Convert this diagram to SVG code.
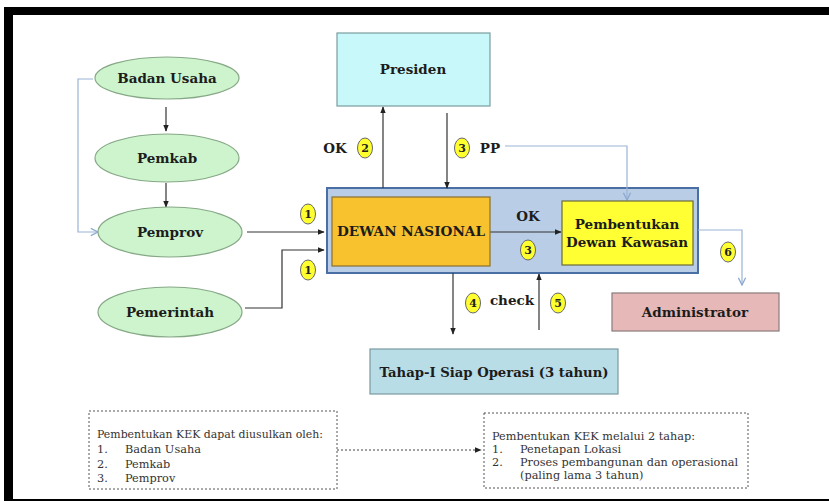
<svg xmlns="http://www.w3.org/2000/svg" width="829" height="501" viewBox="0 0 829 501">
<defs>
<marker id="ah" viewBox="0 0 10 10" refX="9" refY="5" markerWidth="7" markerHeight="7" markerUnits="userSpaceOnUse" orient="auto"><path d="M0,1 L10,5 L0,9 z" fill="#222"/></marker>
<marker id="ahb" viewBox="0 0 10 10" refX="9" refY="5" markerWidth="9" markerHeight="9" markerUnits="userSpaceOnUse" orient="auto"><path d="M1,1 L9,5 L1,9" fill="none" stroke="#8eaad0" stroke-width="1.5"/></marker>
</defs>
<style>
.lbl{font-family:"DejaVu Serif","Liberation Serif",serif;font-weight:bold;fill:#1c1c1c;text-anchor:middle;dominant-baseline:central}
.ell{fill:#cdf4cd;stroke:#86a886;stroke-width:1.2}
.badge{fill:#ffff30;stroke:#666;stroke-width:1}
.bn{font-family:"DejaVu Serif","Liberation Serif",serif;font-weight:bold;font-size:11px;fill:#222;text-anchor:middle;dominant-baseline:central}
.ln{fill:none;stroke:#333;stroke-width:1.2}
.lb{fill:none;stroke:#9ab3d6;stroke-width:1.2}
.note{font-family:"DejaVu Serif","Liberation Serif",serif;font-size:11.3px;fill:#333}
.dash{fill:#fff;stroke:#555;stroke-width:1;stroke-dasharray:2,2}
</style>
<rect width="829" height="501" fill="#fff"/>
<!-- frame -->
<rect x="4" y="7" width="825" height="8" fill="#000"/>
<rect x="4" y="7" width="9" height="494" fill="#000"/>
<rect x="4" y="499" width="825" height="2" fill="#000"/>

<g id="dewan-group"><rect x="327" y="188" width="371" height="85" fill="#b9cde6" stroke="#4a6fa5" stroke-width="2"/></g>

<g id="connectors">
<path class="ln" d="M166,107 V131" marker-end="url(#ah)"/>
<path class="ln" d="M166,183 V207" marker-end="url(#ah)"/>
<path class="lb" d="M93,79 H78 V232 H98" marker-end="url(#ahb)"/>
<path class="ln" d="M247,232 H324" marker-end="url(#ah)"/>
<path class="ln" d="M245,308 H282 V250 H324" marker-end="url(#ah)"/>
<path class="ln" d="M383,188 V107" marker-end="url(#ah)"/>
<path class="ln" d="M447,113 V188" marker-end="url(#ah)"/>
<path class="lb" d="M505,146 H627 V200" marker-end="url(#ahb)"/>
<path class="ln" d="M490,232 H561" marker-end="url(#ah)"/>
<path class="lb" d="M698,230 H742 V285" marker-end="url(#ahb)"/>
<path class="ln" d="M453,273 V334" marker-end="url(#ah)"/>
<path class="ln" d="M539,330 V274" marker-end="url(#ah)"/>
<path fill="none" stroke="#444" stroke-width="1" stroke-dasharray="2,2" d="M337,450 H481" marker-end="url(#ah)"/>
</g>

<g id="badan-usaha"><ellipse class="ell" cx="167" cy="78" rx="72" ry="21"/><text class="lbl" x="167" y="78" font-size="13.5">Badan Usaha</text></g>
<g id="pemkab"><ellipse class="ell" cx="167" cy="158" rx="72" ry="24"/><text class="lbl" x="167" y="158" font-size="13.5">Pemkab</text></g>
<g id="pemprov"><ellipse class="ell" cx="170" cy="232" rx="72" ry="25"/><text class="lbl" x="170" y="232" font-size="13.5">Pemprov</text></g>
<g id="pemerintah"><ellipse class="ell" cx="170" cy="312" rx="72" ry="25"/><text class="lbl" x="170" y="312" font-size="13.5">Pemerintah</text></g>

<g id="presiden"><rect x="337" y="33" width="153" height="73" fill="#c8f8fa" stroke="#7a9da0" stroke-width="1.2"/><text class="lbl" x="413" y="69" font-size="13.5">Presiden</text></g>

<g id="dewan-nasional"><rect x="332" y="197" width="158" height="69" fill="#f8c12e" stroke="#8a7030" stroke-width="1.2"/><text class="lbl" x="411" y="231" font-size="13" textLength="148" lengthAdjust="spacingAndGlyphs">DEWAN NASIONAL</text></g>
<g id="pembentukan"><rect x="562" y="201" width="131" height="64" fill="#ffff33" stroke="#6b6b3a" stroke-width="1.2"/><text class="lbl" x="627" y="224" font-size="13.5">Pembentukan</text><text class="lbl" x="627" y="242" font-size="13.5" textLength="122" lengthAdjust="spacingAndGlyphs">Dewan Kawasan</text></g>
<g id="administrator"><rect x="612" y="293" width="167" height="38" fill="#e6b8b8" stroke="#8c7a7a" stroke-width="1.2"/><text class="lbl" x="695" y="312" font-size="13.5">Administrator</text></g>
<g id="tahap"><rect x="370" y="349" width="248" height="45" fill="#b8dde6" stroke="#7a9aa0" stroke-width="1.2"/><text class="lbl" x="494" y="372" font-size="13.5" textLength="229" lengthAdjust="spacingAndGlyphs">Tahap-I Siap Operasi (3 tahun)</text></g>

<g id="labels">
<text class="lbl" x="335" y="148" font-size="13.5">OK</text>
<text class="lbl" x="490" y="148" font-size="13.5">PP</text>
<text class="lbl" x="528" y="216" font-size="13.5">OK</text>
<text class="lbl" x="512" y="300" font-size="13.5">check</text>
</g>

<g id="badges">
<g><ellipse class="badge" cx="308" cy="214" rx="7.5" ry="10"/><text class="bn" x="308" y="214">1</text></g>
<g><ellipse class="badge" cx="308" cy="270" rx="7.5" ry="10"/><text class="bn" x="308" y="270">1</text></g>
<g><ellipse class="badge" cx="365" cy="148" rx="7.5" ry="10"/><text class="bn" x="365" y="148">2</text></g>
<g><ellipse class="badge" cx="462" cy="148" rx="7.5" ry="10"/><text class="bn" x="462" y="148">3</text></g>
<g><ellipse class="badge" cx="528" cy="250" rx="7.5" ry="10"/><text class="bn" x="528" y="250">3</text></g>
<g><ellipse class="badge" cx="473" cy="303" rx="7.5" ry="10"/><text class="bn" x="473" y="303">4</text></g>
<g><ellipse class="badge" cx="558" cy="303" rx="7.5" ry="10"/><text class="bn" x="558" y="303">5</text></g>
<g><ellipse class="badge" cx="728" cy="252" rx="7.5" ry="10"/><text class="bn" x="728" y="252">6</text></g>
</g>

<g id="note-left">
<rect class="dash" x="89" y="411" width="248" height="78"/>
<text class="note" x="97" y="438" textLength="226" lengthAdjust="spacingAndGlyphs">Pembentukan KEK dapat diusulkan oleh:</text>
<text class="note" x="97" y="453">1.</text><text class="note" x="125" y="453">Badan Usaha</text>
<text class="note" x="97" y="468">2.</text><text class="note" x="125" y="468">Pemkab</text>
<text class="note" x="97" y="482">3.</text><text class="note" x="125" y="482">Pemprov</text>
</g>
<g id="note-right">
<rect class="dash" x="484" y="413" width="264" height="75"/>
<text class="note" x="492" y="440" textLength="203" lengthAdjust="spacingAndGlyphs">Pembentukan KEK melalui 2 tahap:</text>
<text class="note" x="492" y="453">1.</text><text class="note" x="520" y="453">Penetapan Lokasi</text>
<text class="note" x="492" y="466">2.</text><text class="note" x="520" y="466" textLength="218" lengthAdjust="spacingAndGlyphs">Proses  pembangunan dan operasional</text>
<text class="note" x="520" y="479">(paling lama 3 tahun)</text>
</g>
</svg>
